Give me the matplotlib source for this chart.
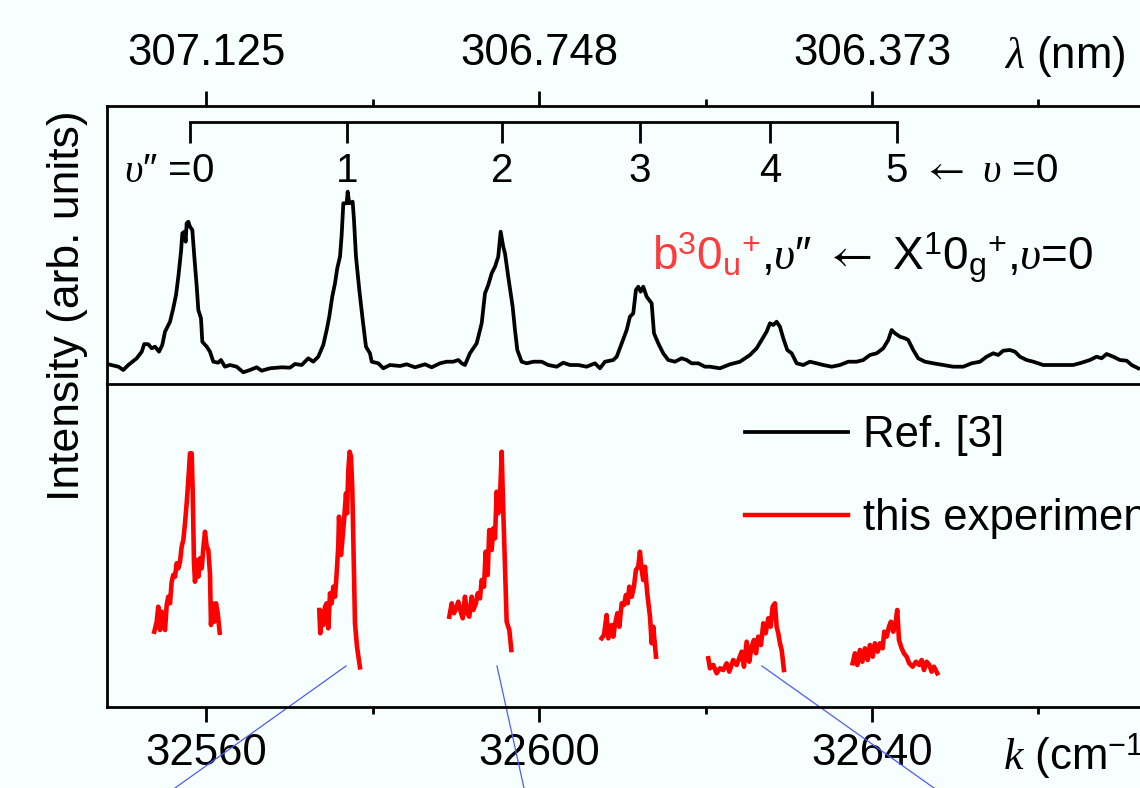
import matplotlib.pyplot as plt

plt.rcParams['font.family'] = ['Liberation Sans', 'DejaVu Sans']
plt.rcParams['mathtext.fontset'] = 'custom'
plt.rcParams['mathtext.rm'] = 'Liberation Sans'
plt.rcParams['mathtext.it'] = 'Liberation Serif:italic'
plt.rcParams['mathtext.bf'] = 'Liberation Sans:bold'
plt.rcParams['mathtext.sf'] = 'STIXGeneral'

# -------- Data --------
# Ref. [3] spectrum: wavenumber k (cm^-1) and intensity (arb. units)
k_ref = [32548.26, 32549.46, 32550.06, 32550.66, 32551.67, 32552.27, 32552.58, 32553.06, 32553.47, 32553.87,
         32554.35, 32554.74, 32555.07, 32555.67, 32556.06, 32556.39, 32556.67, 32556.99, 32557.15, 32557.39,
         32557.55, 32557.67, 32557.87, 32558.07, 32558.35, 32558.59, 32558.88, 32559.07, 32559.39, 32559.55,
         32560.08, 32560.47, 32560.87, 32561.47, 32561.79, 32562.27, 32562.88, 32563.68, 32564.47, 32565.28,
         32566.08, 32566.68, 32567.68, 32569.09, 32570.08, 32570.68, 32571.49, 32572.28, 32572.88, 32573.48,
         32574.08, 32574.49, 32574.80, 32575.16, 32575.49, 32575.76, 32576.09, 32576.29, 32576.49, 32576.89,
         32577.01, 32577.21, 32577.61, 32577.77, 32578.01, 32578.41, 32578.82, 32579.21, 32579.69, 32579.90,
         32580.69, 32581.29, 32582.09, 32583.30, 32584.10, 32585.10, 32586.30, 32587.10, 32588.10, 32588.91,
         32589.70, 32590.30, 32590.71, 32591.10, 32591.70, 32592.51, 32593.11, 32593.51, 32593.90, 32594.31,
         32594.71, 32595.10, 32595.39, 32595.70, 32595.91, 32596.30, 32596.83, 32597.11, 32597.39, 32597.91,
         32598.52, 32599.31, 32600.32, 32601.11, 32602.12, 32602.91, 32603.72, 32604.71, 32605.72, 32606.72,
         32607.32, 32607.92, 32608.92, 32609.33, 32609.93, 32610.53, 32610.92, 32611.32, 32611.64, 32611.92,
         32612.21, 32612.52, 32612.93, 32613.53, 32613.81, 32614.32, 32614.92, 32615.52, 32616.33, 32617.13,
         32617.73, 32618.33, 32619.13, 32619.93, 32620.53, 32621.73, 32622.94, 32624.14, 32625.34, 32626.14,
         32626.74, 32627.34, 32627.74, 32628.14, 32628.54, 32628.94, 32629.34, 32629.82, 32630.35, 32630.95,
         32631.74, 32632.54, 32633.35, 32634.14, 32635.15, 32636.15, 32637.15, 32638.15, 32638.95, 32639.75,
         32640.56, 32641.35, 32641.95, 32642.36, 32642.76, 32643.36, 32643.96, 32644.35, 32644.95, 32645.55,
         32646.36, 32647.36, 32648.56, 32649.76, 32650.96, 32651.97, 32652.97, 32653.77, 32654.56, 32655.16,
         32655.76, 32656.57, 32657.17, 32657.77, 32658.57, 32659.37, 32660.57, 32661.77, 32662.97, 32664.17,
         32665.18, 32666.18, 32666.98, 32667.58, 32668.18, 32668.98, 32669.78, 32670.59, 32671.19, 32671.98]
i_ref = [7.7, 5.3, 2, 7, 13.7, 20.3, 28, 27.7, 23.7, 25.3,
         20.3, 27, 40.3, 50.3, 63.7, 77, 95.3, 120.3, 138.7, 140.3,
         130.3, 148.7, 150.3, 145.3, 142, 115.3, 85.3, 62, 53.7, 30.3,
         25.3, 20.3, 10.3, 9.3, 12, 5.3, 7, 5.3, -0.3, 2,
         4.7, 1.3, 3.7, 4.7, 4.3, 8, 7, 13.7, 10.3, 15.3,
         27, 42, 55.3, 75.3, 88.7, 103.7, 115.3, 137, 168.7, 168.7,
         180.3, 168.7, 170.3, 152, 115.3, 82, 52, 25.3, 18.7, 10.3,
         8.7, 3.7, 7, 6, 7.7, 4.7, 7.7, 4.7, 8.7, 10.3,
         10.3, 12, 8.7, 7, 18.7, 28.7, 48.7, 78.7, 87, 98.7,
         105.3, 115.3, 140.3, 125.3, 118.7, 95.3, 65.3, 42, 22, 10.3,
         8.7, 10.3, 10.3, 7, 5.3, 9.3, 7, 7, 5.3, 8.7,
         3.7, 10.3, 12, 15.3, 28.7, 42, 55.3, 58.7, 82, 85.3,
         80.3, 85.3, 75.3, 68.7, 38.7, 28.7, 18.7, 12, 10.3, 13.7,
         12, 8.7, 8.7, 5.3, 5.3, 3.7, 7.7, 10.3, 17, 23.7,
         32, 40.3, 48.7, 47, 50.3, 45.3, 33.7, 22, 18.7, 8.7,
         7, 10.3, 8.7, 7, 5.3, 7, 10.3, 10.3, 12, 17,
         18.7, 23.7, 32, 42, 38.7, 35.3, 33.7, 32, 22, 13.7,
         10.3, 8.7, 7, 5.3, 5.3, 8.7, 10.3, 15.3, 18.7, 17,
         21.3, 22, 20.3, 15.3, 12, 10.3, 7, 7, 7, 7,
         9.3, 12, 15.3, 13.7, 18, 15.3, 12, 11.3, 7, 3.7]

# this experiment: six separate scans
seg1_k = [32553.78, 32554.07, 32554.26, 32554.47, 32554.67, 32554.86, 32555.07, 32555.27, 32555.46, 32555.67,
          32555.87, 32556.06, 32556.27, 32556.47, 32556.67, 32556.87, 32557.07, 32557.27, 32557.47, 32557.67,
          32557.87, 32558.07, 32558.27, 32558.39, 32558.55, 32558.67, 32558.88, 32559.07, 32559.27, 32559.48,
          32559.67, 32559.87, 32560.08, 32560.27, 32560.47, 32560.59, 32560.80, 32560.99, 32561.19, 32561.40,
          32561.64]
seg1_i = [68.3, 78.3, 93.3, 70, 88.3, 78.3, 70, 95, 103.3, 96.7,
          118.3, 125, 123.3, 136.7, 131.7, 138.3, 153.3, 160, 176.7, 196.7,
          220, 246.7, 246.7, 210, 136.7, 118.3, 140, 123.3, 141.7, 131.7,
          151.7, 168.3, 153.3, 150, 126.7, 75, 96.7, 78.3, 96.7, 86.7,
          67.3]
seg2_k = [32573.60, 32573.72, 32573.89, 32574.08, 32574.29, 32574.49, 32574.68, 32574.89, 32575.09, 32575.28,
          32575.49, 32575.69, 32575.88, 32575.97, 32576.21, 32576.41, 32576.61, 32576.81, 32576.93, 32577.09,
          32577.25, 32577.41, 32577.57, 32577.73, 32577.89, 32578.13, 32578.49]
seg2_i = [90, 66.7, 88.3, 75, 93.3, 96.7, 71.7, 106.7, 96.7, 113.3,
          103.3, 126.7, 153.3, 183.3, 145, 163.3, 183.3, 206.7, 186.7, 230,
          248.3, 243.3, 210, 143.3, 76.7, 53.3, 32.7]
seg3_k = [32589.22, 32589.51, 32589.78, 32590.11, 32590.30, 32590.59, 32590.83, 32591.10, 32591.38, 32591.62,
          32591.91, 32592.10, 32592.42, 32592.63, 32592.91, 32593.11, 32593.39, 32593.59, 32593.83, 32594.02,
          32594.31, 32594.50, 32594.71, 32594.91, 32595.10, 32595.31, 32595.51, 32595.70, 32595.91, 32596.11,
          32596.43, 32596.67]
seg3_i = [83.3, 96.7, 86.7, 93.3, 98.3, 88.3, 81.7, 103.3, 86.7, 83.3,
          103.3, 90, 96.7, 106.7, 101.7, 120, 113.3, 148.3, 125, 170,
          150, 171.7, 161.7, 208.3, 186.7, 201.7, 248.3, 190, 133.3, 78.3,
          70, 50]
seg4_k = [32607.52, 32607.80, 32608.12, 32608.32, 32608.52, 32608.73, 32608.92, 32609.12, 32609.40, 32609.64,
          32609.93, 32610.20, 32610.44, 32610.65, 32610.84, 32611.13, 32611.40, 32611.64, 32611.92, 32612.12,
          32612.33, 32612.52, 32612.73, 32613.00, 32613.33, 32613.53, 32613.72, 32614.05]
seg4_i = [61.7, 65, 85, 61.7, 71.7, 75, 63.3, 75, 86.7, 73.3,
          96.7, 95, 105, 96.7, 113.3, 103.3, 113.3, 130, 133.3, 148.3,
          130, 120, 133.3, 106.7, 83.3, 56.7, 73.3, 43.3]
seg5_k = [32620.33, 32620.53, 32620.93, 32621.34, 32621.73, 32622.13, 32622.54, 32622.85, 32623.33, 32623.74,
          32624.05, 32624.34, 32624.62, 32624.94, 32625.25, 32625.54, 32625.82, 32626.06, 32626.33, 32626.66,
          32626.94, 32627.22, 32627.54, 32627.82, 32628.06, 32628.34, 32628.54, 32628.74, 32628.94, 32629.15,
          32629.42]
seg5_i = [41.7, 31.7, 35, 26.7, 31.7, 30, 36.7, 28.3, 40, 35,
          41.7, 48.3, 33.3, 58.3, 38.3, 53.3, 60, 46.7, 63.3, 55,
          76.7, 66.7, 81.7, 73.3, 93.3, 96.7, 73.3, 66.7, 56.7, 50,
          30]
seg6_k = [32637.67, 32637.95, 32638.23, 32638.55, 32638.83, 32639.15, 32639.48, 32639.75, 32640.08, 32640.35,
          32640.68, 32640.95, 32641.28, 32641.47, 32641.76, 32642.03, 32642.27, 32642.55, 32642.79, 32643.03,
          32643.24, 32643.56, 32643.84, 32644.16, 32644.47, 32644.88, 32645.28, 32645.67, 32645.96, 32646.24,
          32646.56, 32646.88, 32647.16, 32647.44, 32647.84]
seg6_i = [36.7, 46.7, 35, 50, 38.3, 51.7, 40, 55, 43.3, 56.7,
          48.3, 56.7, 51.7, 68.3, 63.3, 73.3, 78.3, 68.3, 75, 90,
          60, 51.7, 46.7, 43.3, 36.7, 33.3, 38.3, 35, 40, 30,
          38.3, 35, 28.3, 33.3, 26.7]

# vibrational levels v'' = 0..5
v_k = [32558.07, 32576.93, 32595.55, 32612.12, 32627.74, 32642.99]
v_labels = ['0', '1', '2', '3', '4', '5']

# connector lines to the zoomed panel below
conn_k_top = [32576.81, 32594.95, 32626.78]
conn_k_bottom = [32556.27, 32598.19, 32647.44]

k_major = [32560, 32600, 32640]
k_minor = [32580, 32620, 32660]

# -------- Plot --------
bg = '#F6FFFE'
fs = 31.5
fig = plt.figure(figsize=(11.4, 7.88), dpi=100, facecolor=bg)
ax1 = fig.add_axes([107/1140, 1 - 384/788, 1083/1140, 278/788], facecolor=bg)
ax2 = fig.add_axes([107/1140, 1 - 707/788, 1083/1140, 323/788], facecolor=bg)

xlim = (32548.1, 32678.2)

line_ref, = ax1.plot(k_ref, i_ref, color='black', lw=2.7)
ax1.set_xlim(*xlim)
ax1.set_ylim(-12, 266)
ax1.xaxis.tick_top()
ax1.set_xticks(k_major)
ax1.set_xticklabels([f"{1e7 / k:.3f}" for k in k_major])
ax1.set_xticks(k_minor, minor=True)
ax1.tick_params(axis='x', which='major', direction='out', length=11, width=2,
                labelsize=fs, pad=12)
ax1.tick_params(axis='x', which='minor', direction='out', length=5, width=2)
ax1.set_yticks([])
ax1.spines['bottom'].set_visible(False)
for s in ax1.spines.values():
    s.set_linewidth(2)

# bracket with v'' levels
ax1.plot([v_k[0], v_k[-1]], [250, 250], color='black', lw=2, clip_on=False)
ax1.vlines(v_k, 229, 250, color='black', lw=2)
for k, lab in zip(v_k[1:], v_labels[1:]):
    ax1.text(k, 190, lab, ha='center', va='baseline', fontsize=29)
ax1.annotate("$\\upsilon$\u2033 =" + v_labels[0], xy=(v_k[0], 190), xytext=(17.5, 0),
             textcoords='offset points', ha='right', va='baseline', fontsize=29)
ax1.annotate(r"$\mathsf{\leftarrow}$ $\upsilon$ =0", xy=(v_k[-1], 190), xytext=(18, 0),
             textcoords='offset points', ha='left', va='baseline', fontsize=29)

t_red = ax1.text(32613.6, 102, r"b$^{3}$0$_{\mathrm{u}}$$^{+}$", color='#FF3B3B',
                 fontsize=33, ha='left', va='baseline')
ax1.annotate(",$\\upsilon$\u2033 $\\mathsf{\\leftarrow}$ X$^{1}$0$_{\\mathrm{g}}$$^{+}$,$\\upsilon$=0",
             xy=(1, 102), xycoords=(t_red, 'data'), ha='left', va='baseline', fontsize=33)

# lower panel
segs = [(seg1_k, seg1_i), (seg2_k, seg2_i), (seg3_k, seg3_i),
        (seg4_k, seg4_i), (seg5_k, seg5_i), (seg6_k, seg6_i)]
red_lines = []
for sk, si in segs:
    ln, = ax2.plot(sk, si, color='red', lw=3.3)
    red_lines.append(ln)

for kt, kb in zip(conn_k_top, conn_k_bottom):
    ax2.plot([kt, kb], [34, -88], color='#4f5bff', lw=0.9, clip_on=False)

ax2.set_xlim(*xlim)
ax2.set_ylim(-7, 316)
ax2.set_xticks(k_major)
ax2.set_xticklabels([str(k) for k in k_major])
ax2.set_xticks(k_minor, minor=True)
ax2.tick_params(axis='x', which='major', direction='out', length=11, width=2,
                labelsize=fs, pad=8)
ax2.tick_params(axis='x', which='minor', direction='out', length=5, width=2)
ax2.set_yticks([])
for s in ax2.spines.values():
    s.set_linewidth(2)

leg = ax2.legend([line_ref, red_lines[0]], ['Ref. [3]', 'this experiment'],
                 loc='upper left', bbox_to_anchor=(745/1140, 1 - 415/788),
                 bbox_transform=fig.transFigure, frameon=False, fontsize=fs,
                 handlelength=2.36, handletextpad=0.34, labelspacing=0.97,
                 borderpad=0, borderaxespad=0)
leg.get_lines()[0].set_linewidth(2.7)
leg.get_lines()[1].set_linewidth(3.2)

fig.text(68/1140, 1 - 306/788, 'Intensity (arb. units)', rotation=90,
         ha='center', va='center', fontsize=32)
fig.text(1004/1140, 1 - 68/788, r"$\lambda$ (nm)", ha='left', va='baseline', fontsize=fs)
fig.text(1003/1140, 1 - 770/788, r"$k$ (cm$^{-1}$)", ha='left', va='baseline', fontsize=fs)

fig.savefig('out.png', dpi=100, facecolor=bg)
